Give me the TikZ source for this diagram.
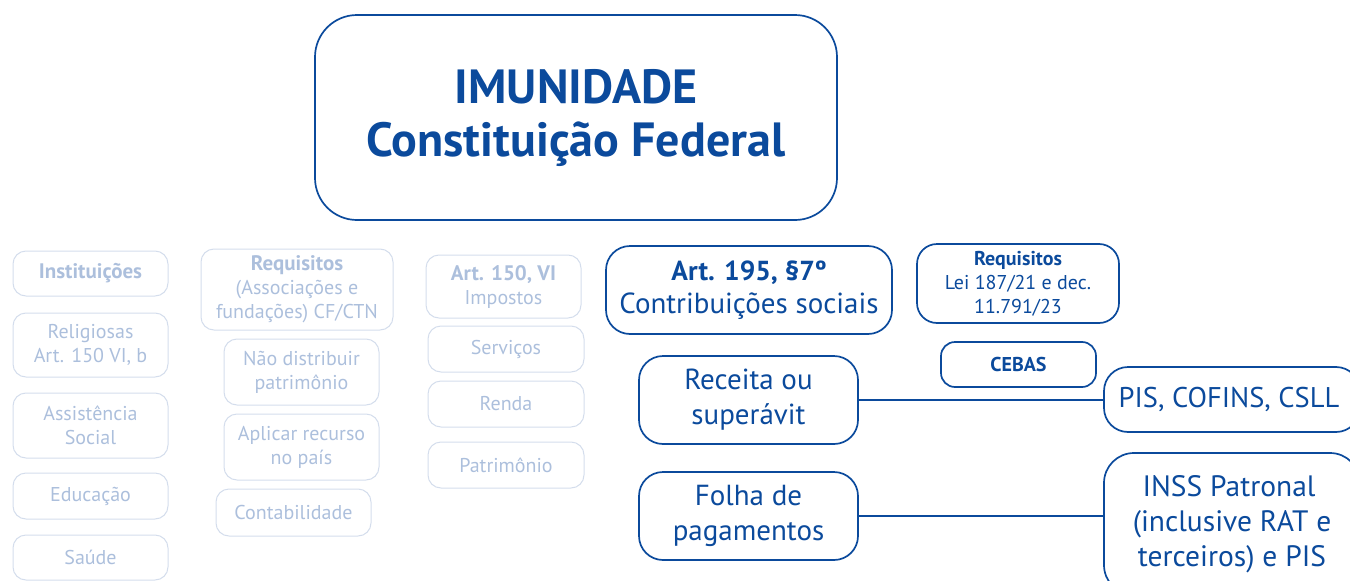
\documentclass[tikz,border=0pt]{standalone}
\usepackage{fontspec}
\setmainfont{PT Sans}
\usetikzlibrary{positioning}

\definecolor{imblue}{RGB}{11,74,156}
\definecolor{fadeline}{RGB}{212,221,236}
\definecolor{fadetext}{RGB}{172,191,220}

\begin{document}
\begin{tikzpicture}[x=1pt,y=-1pt,
    darkbox/.style={draw=imblue,line width=1.7pt,rounded corners=20pt,text=imblue,align=center,inner sep=0pt},
    fadebox/.style={draw=fadeline,line width=1pt,rounded corners=13pt,text=fadetext,align=center,inner sep=0pt,
        font=\fontsize{20}{24}\selectfont},
    link/.style={draw=imblue,line width=1.7pt}]

\def\fadew{155pt}
\newcommand\fadehead[1]{{\fontsize{21}{24}\selectfont\bfseries #1}}

\useasboundingbox (0,0) rectangle (1350,581);

% titulo
\node (imunidade) [darkbox,rounded corners=42pt,minimum width=522pt,minimum height=205pt,
    font=\fontsize{48}{53}\selectfont\bfseries] at (576,117.5) {IMUNIDADE\\Constituição Federal};

% coluna instituicoes (esmaecida)
\node (inst) [fadebox,minimum width=\fadew,minimum height=45pt] at (90.5,273.5) {\fadehead{Instituições}};
\node (relig) [fadebox,minimum width=\fadew,minimum height=64pt] at (90.5,345) {Religiosas\\Art. 150 VI, b};
\node (assist) [fadebox,minimum width=\fadew,minimum height=65pt] at (90.5,425.5) {Assistência\\Social};
\node (educ) [fadebox,minimum width=\fadew,minimum height=46pt] at (90.5,496) {Educação};
\node (saude) [fadebox,minimum width=\fadew,minimum height=45pt] at (90.5,557.5) {Saúde};

% coluna requisitos CF/CTN
\node (reqcf) [fadebox,minimum width=192pt,minimum height=81pt] at (297,289.5)
    {\fadehead{Requisitos}\\(Associações e\\fundações) CF/CTN};
\node (naodist) [fadebox,minimum width=\fadew,minimum height=66pt] at (301.5,372) {Não distribuir\\patrimônio};
\node (aplicar) [fadebox,minimum width=\fadew,minimum height=66pt] at (301.5,447) {Aplicar recurso\\no país};
\node (contab) [fadebox,minimum width=\fadew,minimum height=47pt] at (293.5,512.5) {Contabilidade};

% coluna impostos
\node (art150) [fadebox,minimum width=\fadew,minimum height=63pt] at (503.5,286.5) {\fadehead{Art. 150, VI}\\Impostos};
\node (serv) [fadebox,minimum width=156pt,minimum height=46pt] at (506,349) {Serviços};
\node (renda) [fadebox,minimum width=156pt,minimum height=46pt] at (506,404) {Renda};
\node (patr) [fadebox,minimum width=156pt,minimum height=46pt] at (506,465) {Patrimônio};

% contribuicoes sociais
\node (art195) [darkbox,rounded corners=24pt,minimum width=286pt,minimum height=88pt,
    font=\fontsize{29}{33}\selectfont] at (749,290)
    {{\fontsize{27.5}{33}\selectfont\bfseries Art. 195, §7º}\\Contribuições sociais};
\node (reqlei) [darkbox,rounded corners=20pt,minimum width=202pt,minimum height=79pt,
    font=\fontsize{20}{24}\selectfont] at (1018,283.5)
    {\textbf{Requisitos}\\Lei 187/21 e dec.\\11.791/23};
\node (cebas) [darkbox,rounded corners=14pt,minimum width=155pt,minimum height=45pt,
    font=\fontsize{20}{24}\selectfont\bfseries] at (1018.5,364.5) {CEBAS};

\node (receita) [darkbox,rounded corners=24pt,minimum width=219pt,minimum height=88pt,
    font=\fontsize{29}{35}\selectfont] at (748.5,400) {Receita ou\\superávit};
\node (folha) [darkbox,rounded corners=24pt,minimum width=219pt,minimum height=88pt,
    font=\fontsize{29}{35}\selectfont] at (748.5,516) {Folha de\\pagamentos};

\node (pis) [darkbox,rounded corners=24pt,minimum width=256pt,minimum height=65pt,
    font=\fontsize{28.5}{35}\selectfont] at (1232,399.5) {\hspace*{-6pt}PIS, COFINS, CSLL};
\node (inss) [darkbox,rounded corners=30pt,minimum width=256pt,minimum height=142pt,
    font=\fontsize{29.5}{35}\selectfont] at (1232,524) {\hspace*{-6pt}INSS Patronal\\(inclusive RAT e\\terceiros) e PIS};

\draw [link] (receita.east) -- (receita.east -| pis.west);
\draw [link] (folha.east) -- (folha.east -| inss.west);

\end{tikzpicture}
\end{document}
